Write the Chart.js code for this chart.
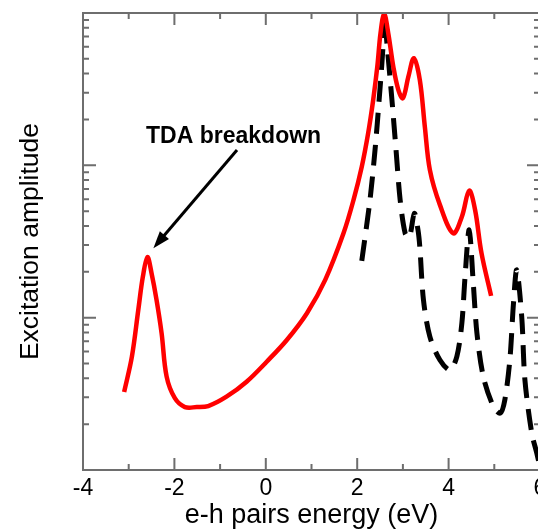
<!DOCTYPE html>
<html>
<head>
<meta charset="utf-8">
<script src="https://cdn.jsdelivr.net/npm/chart.js@4"></script>
<style>
  html, body { margin:0; padding:0; background:#fff; overflow:hidden; }
  #wrap { width:560px; height:530px; }
</style>
</head>
<body>
<div id="wrap"><canvas id="c" width="560" height="530"></canvas></div>
<script>
// full calculation (red) vs TDA (black dashed), log amplitude
const redX = [-3.10,-2.93,-2.79,-2.69,-2.59,-2.50,-2.39,-2.28,-2.17,-1.99,-1.77,-1.51,-1.26,-0.86,-0.42,0.02,0.46,0.90,1.30,1.70,1.92,2.10,2.24,2.35,2.44,2.51,2.59,2.68,2.79,2.90,3.00,3.12,3.24,3.37,3.48,3.59,3.81,4.10,4.29,4.45,4.58,4.72,4.93];
const redY = [0.00325,0.00555,0.01125,0.01858,0.02495,0.01959,0.01306,0.00791,0.0041,0.00296,0.00259,0.00259,0.00263,0.00303,0.0038,0.00514,0.00714,0.0107,0.0177,0.0358,0.0593,0.0979,0.1626,0.269,0.445,0.736,0.99,0.736,0.445,0.313,0.276,0.382,0.505,0.364,0.1795,0.0933,0.055,0.0358,0.046,0.0682,0.0509,0.0265,0.0139];

const tdaX = [2.10,2.28,2.39,2.48,2.56,2.59,2.65,2.76,2.85,2.94,3.05,3.14,3.25,3.33,3.37,3.45,3.59,3.81,4.03,4.18,4.29,4.36,4.45,4.54,4.62,4.76,4.98,5.13,5.23,5.34,5.42,5.49,5.60,5.67,5.82,5.93,6.05];
const tdaY = [0.0236,0.0593,0.126,0.269,0.573,0.98,0.634,0.269,0.126,0.0593,0.0358,0.0335,0.0484,0.0377,0.0292,0.01306,0.0075,0.00527,0.00454,0.00555,0.00918,0.01858,0.0377,0.01683,0.00791,0.0041,0.00261,0.00236,0.00288,0.00527,0.01245,0.02056,0.01016,0.0039,0.00174,0.00129,0.00089];

const xTicks = [-4,-3,-2,-1,0,1,2,3,4,5,6];
const xMajor = [-4,-2,0,2,4,6];
const yDecades = [0.001,0.01,0.1,1];

const noteText = 'TDA breakdown';
const notePos = [-2.62, 0.14];
const arrowFrom = [-0.63, 0.126];
const arrowTo = [-2.46, 0.0286];

const FONT = 'Liberation Sans, Arial, sans-serif';
const AXIS = '#6e6e6e';

const toPts = (xs, ys) => xs.map((x, i) => ({x, y: ys[i]}));

const frameTicks = {
  id: 'frameTicks',
  afterDatasetsDraw(chart) {
    const {ctx, chartArea: a, scales: {x, y}} = chart;
    ctx.save();
    ctx.strokeStyle = AXIS;
    ctx.lineWidth = 2;
    ctx.strokeRect(a.left, a.top, a.right - a.left, a.bottom - a.top);
    ctx.beginPath();
    xTicks.forEach(v => {
      const px = x.getPixelForValue(v);
      const len = xMajor.includes(v) ? 12 : 6;
      ctx.moveTo(px, a.bottom); ctx.lineTo(px, a.bottom - len);
      ctx.moveTo(px, a.top); ctx.lineTo(px, a.top + len);
    });
    yDecades.forEach((d, i) => {
      if (i === yDecades.length - 1) return;
      for (let k = 1; k <= 9; k++) {
        const py = y.getPixelForValue(d * k);
        const len = k === 1 ? 13 : 6;
        ctx.moveTo(a.left, py); ctx.lineTo(a.left + len, py);
        ctx.moveTo(a.right, py); ctx.lineTo(a.right - len, py);
      }
    });
    ctx.stroke();

    // annotation
    const fx = x.getPixelForValue(arrowFrom[0]), fy = y.getPixelForValue(arrowFrom[1]);
    const tx = x.getPixelForValue(arrowTo[0]), ty = y.getPixelForValue(arrowTo[1]);
    const ang = Math.atan2(ty - fy, tx - fx);
    const hl = 17, hw = 6;
    ctx.strokeStyle = '#000'; ctx.fillStyle = '#000';
    ctx.lineWidth = 3;
    ctx.beginPath();
    ctx.moveTo(fx, fy);
    ctx.lineTo(tx - Math.cos(ang) * hl * 0.8, ty - Math.sin(ang) * hl * 0.8);
    ctx.stroke();
    ctx.beginPath();
    ctx.moveTo(tx, ty);
    ctx.lineTo(tx - Math.cos(ang) * hl - Math.sin(ang) * hw, ty - Math.sin(ang) * hl + Math.cos(ang) * hw);
    ctx.lineTo(tx - Math.cos(ang) * hl + Math.sin(ang) * hw, ty - Math.sin(ang) * hl - Math.cos(ang) * hw);
    ctx.closePath();
    ctx.fill();
    ctx.font = 'bold 23px ' + FONT;
    ctx.textBaseline = 'alphabetic';
    ctx.textAlign = 'left';
    ctx.fillText(noteText, x.getPixelForValue(notePos[0]), y.getPixelForValue(notePos[1]));
    ctx.restore();
  }
};

new Chart(document.getElementById('c'), {
  type: 'line',
  data: {
    datasets: [
      {label: 'full', data: toPts(redX, redY), borderColor: '#ff0000', borderWidth: 4.5,
       pointRadius: 0, fill: false, tension: 0.35},
      {label: 'TDA', data: toPts(tdaX, tdaY), borderColor: '#000', borderWidth: 5,
       borderDash: [21, 11], borderCapStyle: 'butt', pointRadius: 0, fill: false,
       tension: 0.3}
    ]
  },
  options: {
    responsive: false,
    animation: false,
    layout: {padding: {top: 13, right: 20, left: 0, bottom: 0}},
    plugins: {legend: {display: false}, tooltip: {enabled: false}},
    scales: {
      x: {
        type: 'linear', min: -4, max: 6,
        grid: {display: false, drawTicks: false}, border: {display: false},
        ticks: {stepSize: 2, padding: 5, color: '#000', font: {family: FONT, size: 23, lineHeight: 1.2},
                maxRotation: 0, callback: v => v},
        title: {display: true, text: 'e-h pairs energy (eV)', color: '#000',
                font: {family: FONT, size: 27, lineHeight: 1}, padding: {top: 0, bottom: 1}},
        afterFit: s => { s.height = 60; }
      },
      y: {
        type: 'logarithmic', min: 0.001, max: 1,
        grid: {display: false, drawTicks: false}, border: {display: false},
        ticks: {display: false},
        title: {display: true, text: 'Excitation amplitude', color: '#000',
                font: {family: FONT, size: 26.5, lineHeight: 1}, padding: {top: 17, bottom: 0}},
        afterFit: s => { s.width = 83; }
      }
    }
  },
  plugins: [frameTicks]
});
</script>
</body>
</html>
